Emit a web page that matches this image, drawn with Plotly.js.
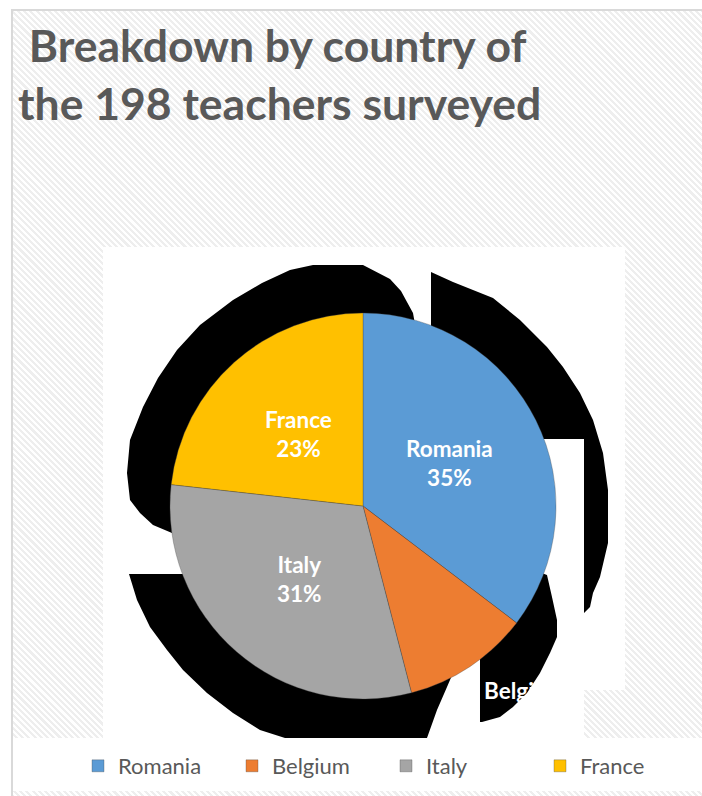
<!DOCTYPE html>
<html><head><meta charset="utf-8">
<script src="https://cdn.plot.ly/plotly-3.0.1.min.js"></script>
<style>
html,body{margin:0;padding:0;background:#fff;}
#wrap{position:relative;width:702px;height:796px;overflow:hidden;}
#bg{position:absolute;left:11px;top:9px;right:-5px;bottom:-5px;border-left:2px solid #d9d9d9;border-top:2px solid #d9d9d9;
background:repeating-linear-gradient(45deg,#ffffff 0px,#ffffff 2.2px,#eeeeee 2.2px,#eeeeee 4.4px);}
#chart{position:absolute;left:0;top:0;width:702px;height:796px;}
</style></head><body>
<div id="wrap"><div id="bg"></div><div id="chart"></div></div>
<script>
// ---- data ----
const countries = ['Romania', 'Belgium', 'Italy', 'France'];
const teachers  = [70, 21, 61, 46];            // 198 teachers in total
const sliceColors = ['#5B9BD5', '#ED7D31', '#A5A5A5', '#FFC000'];
const titleLines = ['Breakdown by country of', 'the 198 teachers surveyed'];

// ---- geometry helpers (pixels -> paper) ----
const W = 702, H = 796;
const px = x => x / W, py = y => 1 - y / H;
const CX = 363, CY = 506, R = 193;   // pie placement in pixels

function poly(pts, fill) {
  return {type: 'path', xref: 'paper', yref: 'paper', layer: 'below',
    path: 'M' + pts.map(p => px(p[0]).toFixed(5) + ',' + py(p[1]).toFixed(5)).join('L') + 'Z',
    fillcolor: fill, line: {width: 0}};
}
function rect(x0, y0, x1, y1, fill) {
  return {type: 'rect', xref: 'paper', yref: 'paper', layer: 'below',
    x0: px(x0), x1: px(x1), y0: py(y1), y1: py(y0), fillcolor: fill, line: {width: 0}};
}

// background panels and the black shadow artefacts around the pie
const shapes = [
  rect(103, 247, 625, 690, '#ffffff'),
  rect(103, 690, 584, 738, '#ffffff'),
  // top-left shadow
  poly([[172,533],[153,525],[140,513],[130,500],[127,473],[130,440],[143,407],[158,378],[177,350],[200,325],
        [233,300],[262,283],[290,270],[313,265],[363,265],[390,279],[401,291],[407,302],[413,313],[416,330],[363,506]], '#000'),
  // top-right shadow
  poly([[431,272],[453,282],[493,298],[520,320],[547,347],[563,367],[580,393],[593,420],[603,453],[608,490],
        [608,543],[600,577],[593,593],[590,607],[584,613],[545,613],[363,506],[431,340]], '#000'),
  // bottom-left shadow
  poly([[129,574],[137,600],[150,627],[167,650],[183,670],[207,693],[233,713],[260,730],[285,738],[427,738],
        [437,710],[447,687],[453,673],[457,660],[363,506],[190,574]], '#000'),
  rect(540, 439, 584, 690, '#ffffff'),
  // bottom-right shadow
  poly([[363,506],[547,575],[552,597],[557,620],[557,637],[550,653],[540,673],[527,693],[513,707],[500,717],
        [482,722],[480,722],[480,650]], '#000'),
  // legend strip
  rect(13, 738, 702, 791, '#ffffff')
];

// data labels, placed along each slice's mid angle
const total = teachers.reduce((a, b) => a + b, 0);
const annotations = [];
let cum = 0;
teachers.forEach((v, i) => {
  const frac = v / total;
  const mid = (cum + frac / 2) * 2 * Math.PI;
  cum += frac;
  const pct = Math.round(frac * 100) + '%';
  if (frac >= 0.15) {
    annotations.push({xref: 'paper', yref: 'paper',
      x: px(CX + 0.5 * R * Math.sin(mid)), y: py(CY - 0.5 * R * Math.cos(mid)),
      text: countries[i] + '<br>' + pct, showarrow: false, xanchor: 'center', yanchor: 'middle',
      font: {family: 'Lato', size: 22.5, color: '#ffffff', weight: 700}});
  } else {
    annotations.push({xref: 'paper', yref: 'paper',
      x: px(CX + 1.25 * R * Math.sin(mid)), y: py(CY - 1.25 * R * Math.cos(mid)),
      xshift: -15, yshift: 16,
      text: countries[i], showarrow: false, xanchor: 'left', yanchor: 'middle',
      font: {family: 'Lato', size: 22.5, color: '#ffffff', weight: 700}});
  }
});

const trace = {
  type: 'pie', labels: countries, values: teachers, sort: false,
  direction: 'clockwise', rotation: 0, textinfo: 'none', hoverinfo: 'label+percent',
  marker: {colors: sliceColors, line: {color: 'rgba(70,70,70,0.55)', width: 0.6}},
  domain: {x: [px(CX - R), px(CX + R)], y: [py(CY + R), py(CY - R)]},
  automargin: false
};

const layout = {
  width: W, height: H, margin: {l: 0, r: 0, t: 0, b: 0},
  paper_bgcolor: 'rgba(0,0,0,0)', plot_bgcolor: 'rgba(0,0,0,0)',
  title: {text: '&nbsp;' + titleLines[0] + '<br>' + titleLines[1],
    x: 18 / W, xanchor: 'left', xref: 'paper', y: 1 - 62 / H, yanchor: 'top', yref: 'container',
    font: {family: 'Lato', size: 44.5, color: '#595959', weight: 700}},
  showlegend: true,
  legend: {orientation: 'h', x: 78 / W, xanchor: 'left', y: 1 - 766 / H, yanchor: 'middle',
    font: {family: 'Lato', size: 22, color: '#595959'}, bgcolor: 'rgba(0,0,0,0)',
    entrywidth: 109, entrywidthmode: 'pixels'},
  shapes: shapes, annotations: annotations
};

Plotly.newPlot('chart', [trace], layout, {displayModeBar: false, staticPlot: true});
</script>
</body></html>
